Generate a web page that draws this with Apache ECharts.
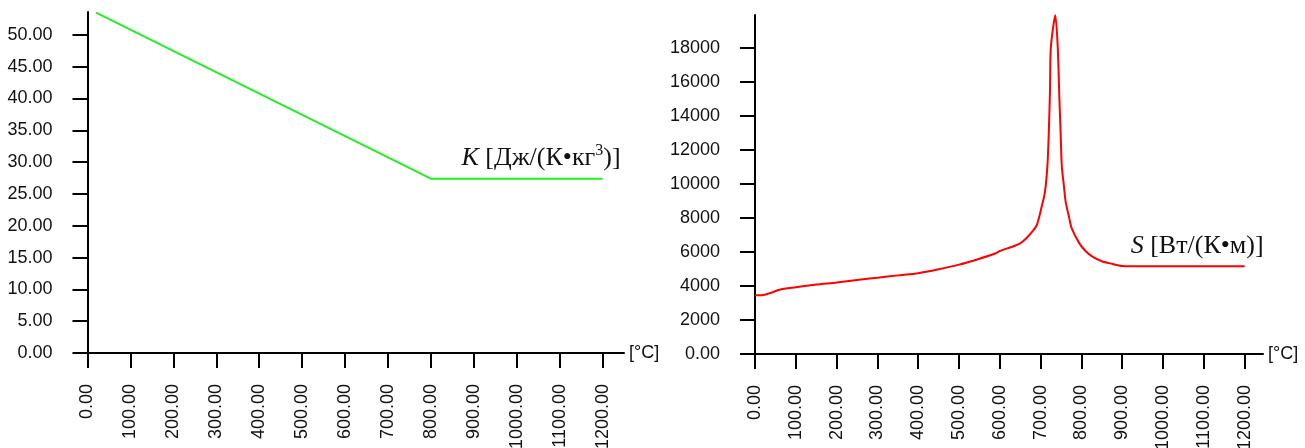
<!DOCTYPE html>
<html>
<head>
<meta charset="utf-8">
<script src="https://cdn.jsdelivr.net/npm/echarts@6/dist/echarts.min.js"></script>
<style>
  html, body { margin: 0; background: #fff; }
  #chart { width: 1305px; height: 448px; }
</style>
</head>
<body>
<div id="chart"></div>
<script>
// tick labels
const tempTicks = [0, 100, 200, 300, 400, 500, 600, 700, 800, 900, 1000, 1100, 1200]
const kTicks = [0, 5, 10, 15, 20, 25, 30, 35, 40, 45, 50]
const sTicks = [0, 2000, 4000, 6000, 8000, 10000, 12000, 14000, 16000, 18000]

// K [Дж/(К•кг3)]
const kTemp = [20, 800, 1200]
const kValue = [53.5, 27.4, 27.4]

// S [Вт/(К•м)]
const sTemp = [0, 20, 40, 60, 100, 150, 200, 250, 300, 350, 400, 450, 500, 550, 590,
  600, 630, 650, 665, 680, 690, 697, 703, 709, 713, 717, 720, 723, 725, 736,
  742, 746, 749, 752, 757, 761, 770, 776, 795, 810, 827, 850, 875, 900, 920,
  1000, 1100, 1200]
const sValue = [3450, 3470, 3600, 3780, 3920, 4080, 4200, 4350, 4480, 4620, 4750, 4980, 5250, 5600, 5920,
  6050, 6300, 6500, 6800, 7200, 7550, 8100, 8700, 9300, 10000, 11200, 13000, 15500, 18000, 19900,
  18000, 15000, 13000, 11000, 9900, 9000, 8000, 7400, 6500, 6050, 5720, 5450, 5300, 5170, 5150,
  5150, 5150, 5150]

const axisFont = { fontFamily: 'Liberation Sans', fontSize: 18, color: '#111' }
const serif = 'Liberation Serif'

const makeX = (gridIndex, max) => ({
  type: 'value',
  gridIndex: gridIndex,
  min: 0,
  max: max,
  interval: 100,
  name: '[°C]',
  nameLocation: 'end',
  nameGap: 5,
  nameTextStyle: axisFont,
  splitLine: { show: false },
  axisLine: { lineStyle: { color: '#000', width: 2 } },
  axisTick: { customValues: tempTicks, length: 15, lineStyle: { color: '#000', width: 2 } },
  axisLabel: Object.assign({
    customValues: tempTicks,
    rotate: 90,
    margin: 31,
    formatter: (v) => v.toFixed(2)
  }, axisFont)
})

const makeY = (gridIndex, max, ticks, fmt) => ({
  type: 'value',
  gridIndex: gridIndex,
  min: 0,
  max: max,
  splitLine: { show: false },
  axisLine: { show: true, lineStyle: { color: '#000', width: 2 } },
  axisTick: { show: true, customValues: ticks, length: 15, lineStyle: { color: '#000', width: 2 } },
  axisLabel: Object.assign({ customValues: ticks, margin: 35, formatter: fmt }, axisFont)
})

const createOptions = () => ({
  animation: false,
  grid: [
    { left: 87.5, top: 12, width: 536.5, height: 341, outerBoundsMode: 'none' },
    { left: 755, top: 15, width: 508, height: 339, outerBoundsMode: 'none' }
  ],
  xAxis: [makeX(0, 1250), makeX(1, 1245)],
  yAxis: [
    makeY(0, 53.6, kTicks, (v) => v.toFixed(2)),
    makeY(1, 19920, sTicks, (v) => (v === 0 ? '0.00' : String(v)))
  ],
  series: [
    {
      type: 'line',
      xAxisIndex: 0,
      yAxisIndex: 0,
      showSymbol: false,
      lineStyle: { color: '#22f022', width: 2 },
      data: kTemp.map((t, i) => [t, kValue[i]])
    },
    {
      type: 'line',
      xAxisIndex: 1,
      yAxisIndex: 1,
      showSymbol: false,
      smooth: 0.25,
      lineStyle: { color: '#ff0000', width: 2 },
      data: sTemp.map((t, i) => [t, sValue[i]])
    }
  ]
})

const chart = echarts.init(document.getElementById('chart'))
chart.setOption(createOptions())

// series names, placed relative to the last point of each line
const kEnd = chart.convertToPixel({ gridIndex: 0 }, [kTemp[kTemp.length - 1], kValue[kValue.length - 1]])
const sEnd = chart.convertToPixel({ gridIndex: 1 }, [sTemp[sTemp.length - 1], sValue[sValue.length - 1]])

const rich = {
  i: { fontFamily: serif, fontSize: 26, fontStyle: 'italic', fill: '#111', lineHeight: 30 },
  n: { fontFamily: serif, fontSize: 26, fill: '#111', lineHeight: 30 },
  s: { fontFamily: serif, fontSize: 16, fill: '#111', verticalAlign: 'top', lineHeight: 30 }
}

chart.setOption({
  graphic: [
    {
      type: 'text',
      x: kEnd[0] + 18,
      y: kEnd[1] - 21,
      style: {
        text: '{i|K}{n| [Дж/(К•кг}{s|3}{n|)]}',
        rich: rich,
        align: 'right',
        verticalAlign: 'middle'
      }
    },
    {
      type: 'text',
      x: sEnd[0] + 19,
      y: sEnd[1] - 20,
      style: {
        text: '{i|S}{n| [Вт/(К•м)]}',
        rich: rich,
        align: 'right',
        verticalAlign: 'middle'
      }
    }
  ]
})
</script>
</body>
</html>
